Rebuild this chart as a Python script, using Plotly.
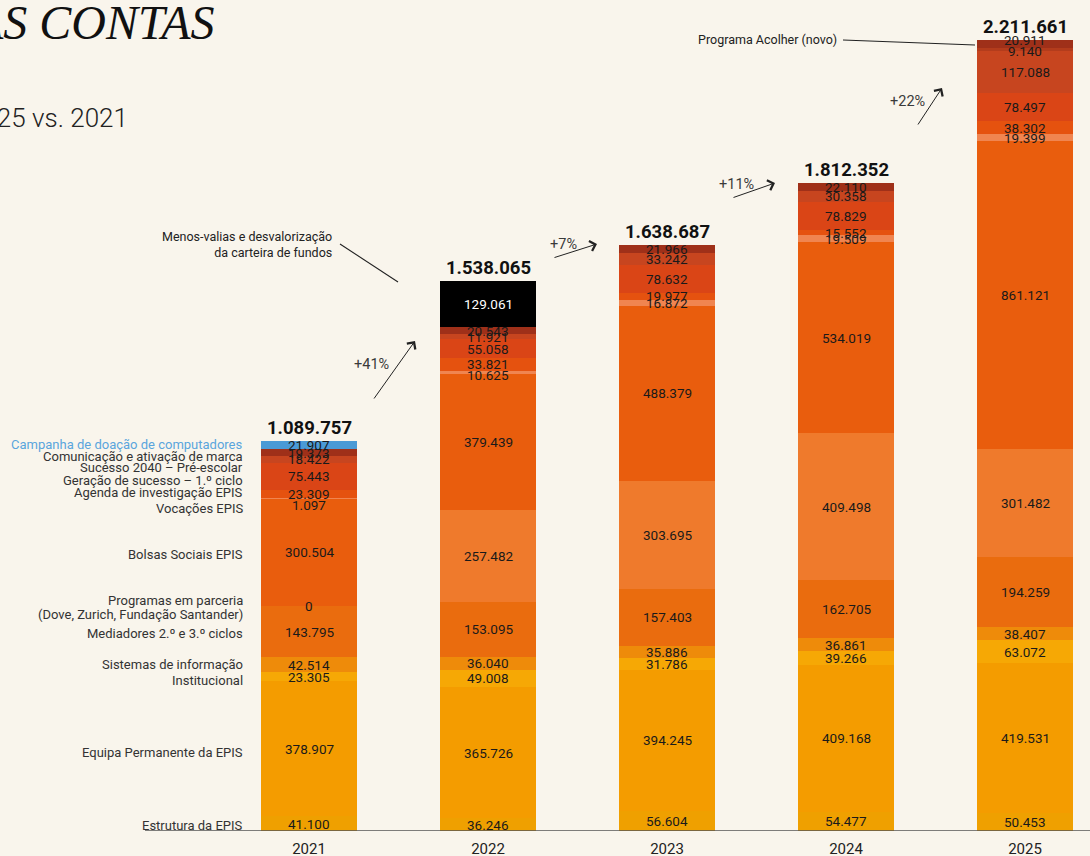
import plotly.graph_objects as go

# ---------------- data ----------------
years = ["2021", "2022", "2023", "2024", "2025"]

series_names = [
    "Estrutura da EPIS",
    "Equipa Permanente da EPIS",
    "Institucional",
    "Sistemas de informação",
    "Mediadores 2.º e 3.º ciclos",
    "Programas em parceria<br>(Dove, Zurich, Fundação Santander)",
    "Bolsas Sociais EPIS",
    "Vocações EPIS",
    "Agenda de investigação EPIS",
    "Geração de sucesso – 1.º ciclo",
    "Sucesso 2040 – Pré-escolar",
    "Programa Acolher (novo)",
    "Comunicação e ativação de marca",
    "Campanha de doação de computadores",
    "Menos-valias e desvalorização da carteira de fundos",
]

estrutura = [41100, 36246, 56604, 54477, 50453]
equipa = [378907, 365726, 394245, 409168, 419531]
institucional = [23305, 49008, 31786, 39266, 63072]
sistemas = [42514, 36040, 35886, 36861, 38407]
mediadores = [143795, 153095, 157403, 162705, 194259]
parceria = [0, 257482, 303695, 409498, 301482]
bolsas = [300504, 379439, 488379, 534019, 861121]
vocacoes = [1097, 10625, 16872, 19509, 19399]
agenda = [23309, 33821, 19977, 15552, 38302]
geracao = [75443, 55058, 78632, 78829, 78497]
sucesso2040 = [18422, 11921, 33242, 30358, 117088]
acolher = [None, None, None, None, 9140]
comunicacao = [19373, 20543, 21966, 22110, 20911]
campanha = [21907, None, None, None, None]
menos_valias = [None, 129061, None, None, None]

totals = [1089757, 1538065, 1638687, 1812352, 2211661]
growth_labels = ["+41%", "+7%", "+11%", "+22%"]

series_values = [estrutura, equipa, institucional, sistemas, mediadores, parceria,
                 bolsas, vocacoes, agenda, geracao, sucesso2040, acolher,
                 comunicacao, campanha, menos_valias]

colors = ["#EFA000", "#F49C00", "#F6A805", "#EE8B0A", "#EA6C0E", "#EF7A2C",
          "#E95D0D", "#F08550", "#E5520F", "#DA4516", "#C7451F", "#B33C1C",
          "#9F3019", "#4A9AD6", "#000000"]

# ---------------- geometry helpers (layout only) ----------------
W, H = 1090, 856
BASE_PX = 831            # pixel row of the baseline
PX_PER_UNIT = 179        # horizontal pixels per category
X_START = -309 / PX_PER_UNIT
PX_PER_M = 357.6         # vertical pixels per million


def px_x(p):
    return X_START + p / PX_PER_UNIT


def px_y(p):
    return (BASE_PX - p) / PX_PER_M * 1e6


BG = "#F9F5EC"
SANS = "Roboto, 'Noto Sans', sans-serif"

xs = list(range(len(years)))
fig = go.Figure()
for name, vals, col in zip(series_names, series_values, colors):
    fig.add_trace(go.Bar(
        x=xs, y=vals, name=name, marker=dict(color=col, line=dict(width=0)),
        width=96 / PX_PER_UNIT, hoverinfo="skip", showlegend=False,
    ))

annotations = []
shapes = []

# value labels inside segments (small pixel nudges where labels would collide)
label_shift = {(7, 0): -7, (7, 1): -3, (11, 4): -2, (12, 4): 4}
cum = [0] * len(years)
for si, vals in enumerate(series_values):
    for i, v in enumerate(vals):
        if v is None:
            continue
        mid = cum[i] + v / 2
        cum[i] += v
        annotations.append(dict(
            x=i, y=mid, xref="x", yref="y", showarrow=False,
            text=f"{v:,}".replace(",", "."),
            font=dict(family=SANS, size=13.5,
                      color="#FFFFFF" if colors[si] == "#000000" else "#1a1a1a"),
            yshift=label_shift.get((si, i), 0),
        ))

# totals
for i, t in enumerate(totals):
    annotations.append(dict(
        x=i, y=t, xref="x", yref="y", showarrow=False, yanchor="bottom", yshift=0,
        text=f"<b>{t:,}</b>".replace(",", "."),
        font=dict(family=SANS, size=18.5, color="#111111"),
    ))

# category labels to the left of 2021 bar (pixel rows, one per text line)
label_rows = [[825], [752], [680], [664], [633], [600, 614], [554], [508], [492],
              [480], [467], None, [456], [444], None]
for si, (name, rows) in enumerate(zip(series_names, label_rows)):
    if rows is None:
        continue
    for line, row in zip(name.split("<br>"), rows):
        annotations.append(dict(
            x=px_x(245), y=px_y(row), xref="x", yref="y", showarrow=False,
            xanchor="right", align="right", text=line,
            font=dict(family=SANS, size=13,
                      color="#5AA5DD" if si == 13 else "#333333"),
        ))

# growth arrows
growth_heads = [(415, 341, -42, 59, 371, 364), (597, 244, -44, 14, 563, 244),
                (775, 183, -43, 15, 736, 184), (942, 88, -25, 38, 907, 101)]
for lab, (hx, hy, ax, ay, tx, ty) in zip(growth_labels, growth_heads):
    annotations.append(dict(
        x=px_x(hx), y=px_y(hy), xref="x", yref="y", ax=ax, ay=ay,
        showarrow=True, arrowhead=4, arrowsize=2.0, arrowwidth=1.0,
        arrowcolor="#222222", text="", standoff=0,
    ))
    annotations.append(dict(
        x=px_x(tx), y=px_y(ty), xref="x", yref="y", showarrow=False, text=lab,
        font=dict(family=SANS, size=14.5, color="#3a3a3a"),
    ))

# Menos-valias note
annotations.append(dict(
    x=px_x(334), y=px_y(244), xref="x", yref="y", showarrow=False,
    xanchor="right", align="right",
    text="Menos-valias e desvalorização<br>da carteira de fundos",
    font=dict(family=SANS, size=12.5, color="#222222"),
))
shapes.append(dict(type="line", xref="x", yref="y",
                   x0=px_x(340), y0=px_y(244), x1=px_x(398), y1=px_y(282),
                   line=dict(color="#222222", width=1.1)))

# Programa Acolher note
annotations.append(dict(
    x=px_x(839), y=px_y(39), xref="x", yref="y", showarrow=False,
    xanchor="right", text="Programa Acolher (novo)",
    font=dict(family=SANS, size=12.5, color="#222222"),
))
shapes.append(dict(type="line", xref="x", yref="y",
                   x0=px_x(843), y0=px_y(40), x1=px_x(975), y1=px_y(45),
                   line=dict(color="#222222", width=1.1)))

# baseline
shapes.append(dict(type="line", xref="x", yref="y",
                   x0=px_x(145), y0=0, x1=px_x(1090), y1=0,
                   line=dict(color="#555555", width=1.5)))

# title / subtitle (cropped on the left as in the source image)
annotations.append(dict(
    x=px_x(216), y=px_y(22), xref="x", yref="y", showarrow=False,
    xanchor="right", text="<i>AS CONTAS</i>",
    font=dict(family="'Liberation Serif', 'DejaVu Serif', serif", size=48, color="#111111"),
))
annotations.append(dict(
    x=px_x(130), y=px_y(118), xref="x", yref="y", showarrow=False,
    xanchor="right", text="2025 vs. 2021",
    font=dict(family=SANS, size=26, color="#222222", weight=300),
))

fig.update_layout(
    width=W, height=H,
    margin=dict(l=0, r=0, t=0, b=H - BASE_PX, autoexpand=False),
    paper_bgcolor=BG, plot_bgcolor=BG,
    barmode="stack", bargap=0,
    showlegend=False,
    annotations=annotations, shapes=shapes,
    xaxis=dict(range=[X_START, X_START + W / PX_PER_UNIT], tickvals=xs, ticktext=years,
               showgrid=False, zeroline=False, showline=False, ticks="outside",
               ticklen=4, tickcolor=BG, automargin=False,
               tickfont=dict(family=SANS, size=15, color="#222222"), fixedrange=True),
    yaxis=dict(range=[0, BASE_PX / PX_PER_M * 1e6], visible=False, showgrid=False,
               zeroline=False, fixedrange=True, automargin=False),
)

fig.write_html(
    "out.html",
    config={"displayModeBar": False},
    post_script="document.body.style.margin='0';document.body.style.background='%s';" % BG,
)
